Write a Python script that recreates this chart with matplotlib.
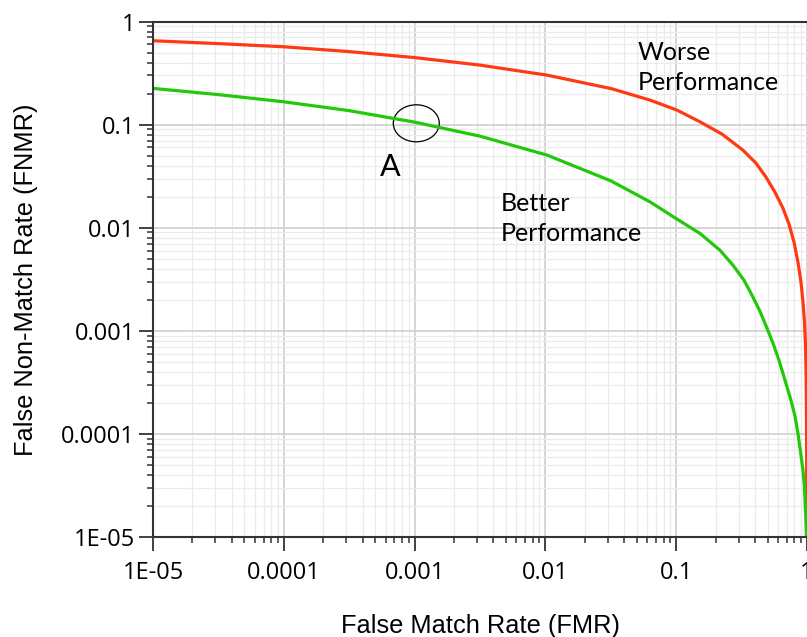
# DET style chart: false non-match rate against false match rate, two systems.

import numpy as np
import matplotlib.pyplot as plt
from matplotlib.patches import Ellipse
from matplotlib.transforms import ScaledTranslation
from matplotlib.ticker import LogLocator, FixedLocator, NullFormatter

fmr_worse = [1e-5, 3.14e-5, 1.0e-4, 3.15e-4, 1.0e-3, 3.16e-3, 0.0103, 0.0318,
             0.0631, 0.1014, 0.152, 0.224, 0.324, 0.407, 0.486, 0.569, 0.655,
             0.729, 0.796, 0.853, 0.900, 0.932, 0.957, 0.974, 0.986, 0.993, 0.998]
fnmr_worse = [0.651, 0.611, 0.569, 0.511, 0.447, 0.378, 0.302, 0.2236, 0.1729,
              0.1383, 0.1065, 0.0809, 0.0565, 0.0423, 0.0309, 0.0221, 0.01546,
              0.01081, 0.00723, 0.00462, 0.00296, 0.00189, 0.00121, 0.000724,
              0.000331, 8.65e-5, 1e-5]

fmr_better = [1e-5, 3.14e-5, 1.0e-4, 3.15e-4, 1.0e-3, 3.16e-3, 0.0103, 0.0318,
              0.0631, 0.1014, 0.152, 0.216, 0.272, 0.330, 0.380, 0.437, 0.495,
              0.550, 0.611, 0.679, 0.755, 0.810, 0.853, 0.900, 0.932, 0.954,
              0.970, 0.984, 0.991]
fnmr_better = [0.2246, 0.1956, 0.1665, 0.1367, 0.1057, 0.0773, 0.0506, 0.0284,
               0.0178, 0.01212, 0.00880, 0.00605, 0.00432, 0.00309, 0.00221,
               0.001546, 0.001057, 0.000756, 0.000517, 0.000331, 0.000211,
               0.000148, 0.000101, 6.18e-5, 4.42e-5, 3.16e-5, 2.02e-5, 1.29e-5, 1e-5]

ticks = [1e-5, 1e-4, 1e-3, 1e-2, 1e-1, 1]
x_tick_labels = ["1E-05", "0.0001", "0.001", "0.01", "0.1", "1"]
y_tick_labels = ["1E-05", "0.0001", "0.001", "0.01", "0.1", "1"]

# Figure ......................................................................
fig = plt.figure(figsize = (8.07, 6.37), dpi = 100)
ax = fig.add_axes([0.1896, 0.157, 0.8104, 0.8092])

ax.plot(fmr_worse, fnmr_worse, color = "#ff3a12", lw = 2.3, solid_capstyle = "butt")
ax.plot(fmr_better, fnmr_better, color = "#22c80a", lw = 2.3, solid_capstyle = "butt")

ax.set_xscale("log")
ax.set_yscale("log")
ax.set_xlim(1e-5, 1)
ax.set_ylim(1e-5, 1)

# Ticks and grid
for axis in (ax.xaxis, ax.yaxis):
    axis.set_major_locator(FixedLocator(ticks))
    axis.set_minor_locator(LogLocator(base = 10, subs = np.arange(2, 10), numticks = 20))
    axis.set_minor_formatter(NullFormatter())
ax.set_xticklabels(x_tick_labels, fontfamily = "Open Sans", fontsize = 17)
ax.set_yticklabels(y_tick_labels, fontfamily = "Open Sans", fontsize = 17)
ax.tick_params(which = "major", direction = "out", length = 10, width = 1.3,
               color = "#333333", pad = 3)
ax.tick_params(which = "minor", direction = "out", length = 4.5, width = 1.1,
               color = "#333333")
ax.tick_params(axis = "x", which = "major", pad = 7)

ax.grid(which = "major", color = "#d2d2d2", lw = 1.3)
ax.grid(which = "minor", color = "#ebebeb", lw = 0.9)
ax.set_axisbelow(True)

for side in ("left", "bottom", "top"):
    ax.spines[side].set_color("#333333")
    ax.spines[side].set_linewidth(1.5)
ax.spines["right"].set_visible(False)

# Axis labels
ax.set_xlabel("False Match Rate (FMR)", fontfamily = "Liberation Sans", fontsize = 18.3)
ax.set_ylabel("False Non-Match Rate (FNMR)", fontfamily = "Liberation Sans", fontsize = 18.3)
ax.xaxis.set_label_coords(0.5, -0.15)
ax.yaxis.set_label_coords(-0.176, 0.5)

# Annotations
ax.text(0.051, 0.65, "Worse\nPerformance", fontfamily = "Lato", fontsize = 18,
        va = "top", ha = "left", linespacing = 1.38)
ax.text(0.00458, 0.0222, "Better\nPerformance", fontfamily = "Lato", fontsize = 18,
        va = "top", ha = "left", linespacing = 1.38)
ax.text(5.44e-4, 0.053, "A", fontfamily = "Lato", fontsize = 22, va = "top", ha = "left")

# Circle round point A, size in inches, centre in data units
ring = Ellipse((0, 0), 0.46, 0.37, fill = False, ec = "black", lw = 0.9,
               transform = fig.dpi_scale_trans + ScaledTranslation(1.03e-3, 0.103, ax.transData))
ax.add_patch(ring)

fig.savefig("out.png", dpi = 100)
